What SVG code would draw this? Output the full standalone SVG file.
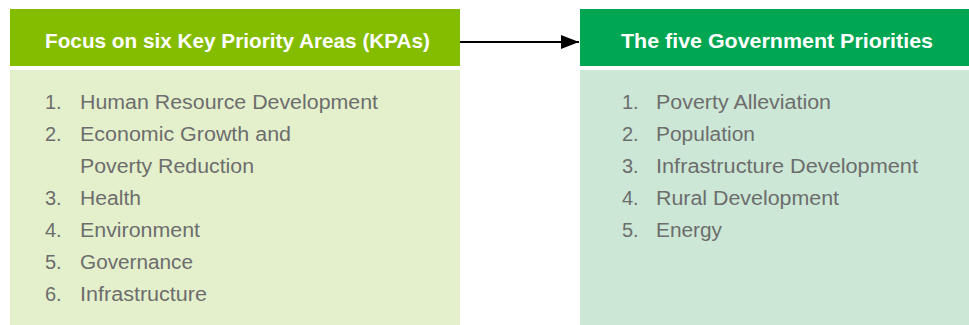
<svg xmlns="http://www.w3.org/2000/svg" width="969" height="325" viewBox="0 0 969 325">
<defs>
<style>
.hd{font-family:"Liberation Sans",Arial,sans-serif;font-weight:bold;font-size:21px;fill:#fff}
.it{font-family:"Liberation Sans",Arial,sans-serif;font-size:20px;fill:#6d6d6d}
</style>
<marker id="ah" viewBox="0 0 18 14" refX="18" refY="7" markerWidth="18" markerHeight="14" markerUnits="userSpaceOnUse" orient="auto">
<path d="M0,0 L18,7 L0,14 Z" fill="#000"/>
</marker>
</defs>
<rect width="969" height="325" fill="#fff"/>
<g id="kpas">
<rect x="10" y="9" width="450" height="57" fill="#84bd00"/>
<rect x="10" y="70" width="450" height="255" fill="#e4f0cc"/>
<text class="hd" x="45" y="48" textLength="385" lengthAdjust="spacingAndGlyphs">Focus on six Key Priority Areas (KPAs)</text>
<g class="it">
<text x="45" y="109">1.</text><text x="80" y="109" textLength="298" lengthAdjust="spacingAndGlyphs">Human Resource Development</text>
<text x="45" y="141">2.</text><text x="80" y="141" textLength="211" lengthAdjust="spacingAndGlyphs">Economic Growth and</text>
<text x="80" y="173" textLength="174" lengthAdjust="spacingAndGlyphs">Poverty Reduction</text>
<text x="45" y="205">3.</text><text x="80" y="205" textLength="61" lengthAdjust="spacingAndGlyphs">Health</text>
<text x="45" y="237">4.</text><text x="80" y="237" textLength="120" lengthAdjust="spacingAndGlyphs">Environment</text>
<text x="45" y="269">5.</text><text x="80" y="269" textLength="113" lengthAdjust="spacingAndGlyphs">Governance</text>
<text x="45" y="301">6.</text><text x="80" y="301" textLength="127" lengthAdjust="spacingAndGlyphs">Infrastructure</text>
</g>
</g>
<g id="gov">
<rect x="580" y="9" width="389" height="57" fill="#00a651"/>
<rect x="580" y="70" width="389" height="255" fill="#cce7d6"/>
<text class="hd" x="621" y="48" textLength="312" lengthAdjust="spacingAndGlyphs">The five Government Priorities</text>
<g class="it">
<text x="622" y="109">1.</text><text x="656" y="109" textLength="175" lengthAdjust="spacingAndGlyphs">Poverty Alleviation</text>
<text x="622" y="141">2.</text><text x="656" y="141" textLength="99" lengthAdjust="spacingAndGlyphs">Population</text>
<text x="622" y="173">3.</text><text x="656" y="173" textLength="262" lengthAdjust="spacingAndGlyphs">Infrastructure Development</text>
<text x="622" y="205">4.</text><text x="656" y="205" textLength="183" lengthAdjust="spacingAndGlyphs">Rural Development</text>
<text x="622" y="237">5.</text><text x="656" y="237" textLength="66" lengthAdjust="spacingAndGlyphs">Energy</text>
</g>
</g>
<g id="connectors">
<line x1="460" y1="42" x2="579" y2="42" stroke="#000" stroke-width="2" marker-end="url(#ah)"/>
</g>
</svg>
